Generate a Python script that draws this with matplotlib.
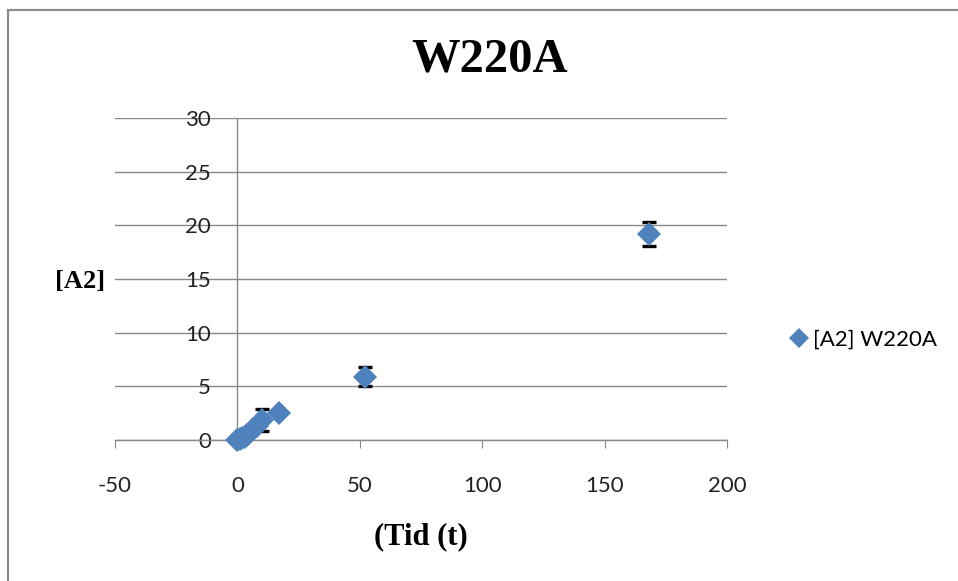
import matplotlib
matplotlib.use("Agg")
import matplotlib.pyplot as plt
from matplotlib.patches import Rectangle
from matplotlib.lines import Line2D

# Measurements of [A2] over time for W220A
time_t = [0, 1, 2, 3, 4, 6, 8, 10, 17, 52, 168]
a2_values = [0.0, 0.05, 0.15, 0.3, 0.5, 0.9, 1.3, 1.85, 2.5, 5.9, 19.2]
a2_errors = [0.05, 0.05, 0.05, 0.1, 0.1, 0.1, 0.1, 1.05, 0.1, 0.9, 1.1]
x_ticks = [-50, 0, 50, 100, 150, 200]
y_ticks = [0, 5, 10, 15, 20, 25, 30]
series_name = "[A2] W220A"

W, H = 958, 581
fig = plt.figure(figsize=(W / 100, H / 100), dpi=100)
fig.patch.set_facecolor("white")

# chart frame
fig.patches.append(Rectangle((8 / W, -0.1), 1.2, 1 - 10 / H + 0.1,
                             transform=fig.transFigure, fill=False,
                             edgecolor="#8c8c8c", linewidth=1.6))

left, right = 115 / W, 727 / W
bottom, top = 1 - 440 / H, 1 - 118 / H
ax = fig.add_axes([left, bottom, right - left, top - bottom])
ax.set_xlim(-50, 200)
ax.set_ylim(0, 30)

grid_c = "#888888"
for s in ["top", "right"]:
    ax.spines[s].set_visible(False)
ax.spines["left"].set_position(("data", 0))
ax.spines["left"].set_color(grid_c)
ax.spines["bottom"].set_color(grid_c)
ax.spines["left"].set_linewidth(1.0)
ax.spines["bottom"].set_linewidth(1.0)

ax.set_yticks(y_ticks)
ax.set_xticks(x_ticks)
ax.yaxis.grid(True, color=grid_c, linewidth=1.0)
ax.set_axisbelow(True)

tick_font = dict(family="Lato", size=16)
ax.set_xticklabels([str(v) for v in x_ticks], **tick_font, color="#222222")
ax.set_yticklabels([str(v) for v in y_ticks], **tick_font, color="#222222")
ax.tick_params(axis="y", length=0, pad=19)
ax.tick_params(axis="x", direction="out", length=6, color=grid_c, pad=20)

blue = "#4F81BD"
ax.errorbar(time_t, a2_values, yerr=a2_errors, fmt="none", ecolor="black",
            elinewidth=1.5, capsize=5, capthick=2.4, zorder=3)
ax.plot(time_t, a2_values, linestyle="none", marker="D", markersize=12.5,
        color=blue, markeredgewidth=0, zorder=4, clip_on=False)

# titles
fig.text(490 / W, 1 - 60 / H, "W220A", ha="center", va="center",
         family="Liberation Serif", fontweight="bold", fontsize=35)
fig.text(80 / W, 1 - 282 / H, "[A2]", ha="center", va="center",
         family="Liberation Serif", fontweight="bold", fontsize=19)
fig.text(421 / W, 1 - 537 / H, "(Tid (t)", ha="center", va="center",
         family="Liberation Serif", fontweight="bold", fontsize=22)

handle = Line2D([], [], linestyle="none", marker="D", markersize=10,
                color=blue, markeredgewidth=0)
fig.legend([handle], [series_name], loc="center left",
           bbox_to_anchor=(789 / W, 1 - 340 / H), frameon=False,
           prop=dict(family="Lato", size=16), handletextpad=0.2,
           handlelength=0.9, borderaxespad=0, borderpad=0)

fig.savefig("out.png", dpi=100)
